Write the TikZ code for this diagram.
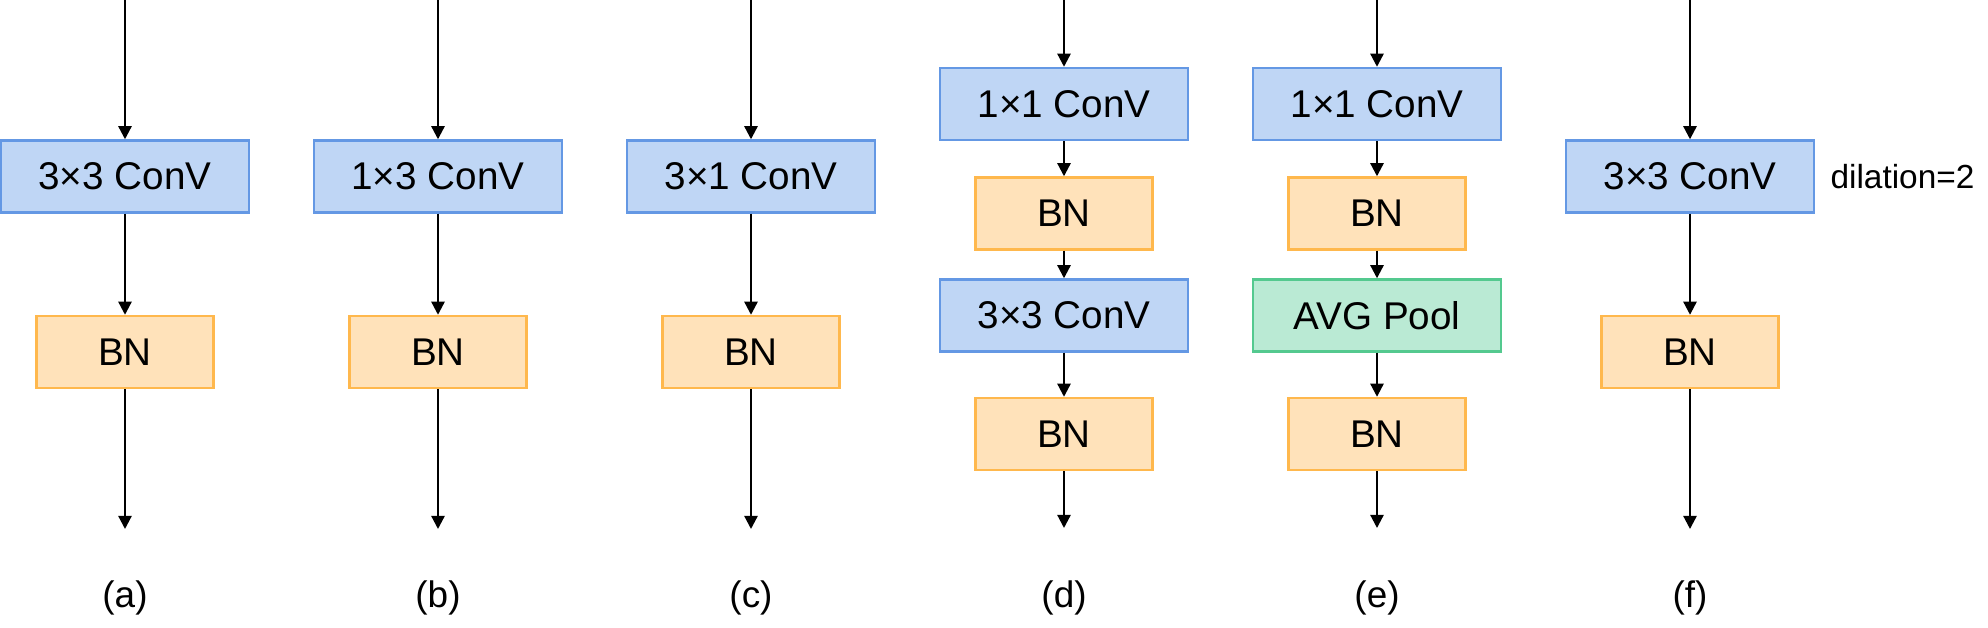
\documentclass[tikz,border=0pt]{standalone}
\usepackage{fontspec}
\setmainfont{Liberation Sans}
\usetikzlibrary{arrows.meta,positioning}

\definecolor{convfill}{RGB}{191,214,245}
\definecolor{convline}{RGB}{100,152,228}
\definecolor{bnfill}{RGB}{255,226,186}
\definecolor{bnline}{RGB}{255,184,77}
\definecolor{poolfill}{RGB}{186,234,212}
\definecolor{poolline}{RGB}{84,201,143}

\begin{document}
\begin{tikzpicture}
[   x=0.02cm,y=-0.02cm,
    block/.style={line width=1.4pt,minimum height=1.44cm,inner sep=0pt,font=\fontsize{22}{26}\selectfont},
    convbox/.style={block,draw=convline,fill=convfill,minimum width=4.96cm},
    poolbox/.style={block,draw=poolline,fill=poolfill,minimum width=4.96cm},
    bnbox/.style={block,draw=bnline,fill=bnfill,minimum width=3.54cm},
    flow/.style={line width=1.3pt,-{Triangle[length=7.5pt,width=7.5pt]}},
    caption/.style={font=\fontsize{21}{25}\selectfont},
    note/.style={inner sep=0pt,font=\fontsize{19}{23}\selectfont},
]
    \useasboundingbox (0,0) rectangle (1988,628);
    % single conv + BN
    \foreach \n/\x/\t in {a/125/3×3 ConV,b/438/1×3 ConV,c/751/3×1 ConV,f/1690/3×3 ConV}
    {   \coordinate (in-\n) at (\x,0);
        \node[convbox] (conv-\n) at (\x,176.5) {\t};
        \node[bnbox] (bn-\n) at (\x,352) {BN};
        \coordinate (out-\n) at (\x,529);
        \draw[flow] (in-\n) -- (conv-\n);
        \draw[flow] (conv-\n) -- (bn-\n);
        \draw[flow] (bn-\n) -- (out-\n);
        \node[caption] (cap-\n) at (\x,598) {(\n)};
    }
    \node[note,right=0.3cm of conv-f] (dil) {dilation=2};
    % (d)
    \coordinate (in-d) at (1064,0);
    \node[convbox] (conv1-d) at (1064,104) {1×1 ConV};
    \node[bnbox] (bn1-d) at (1064,213.5) {BN};
    \node[convbox] (conv2-d) at (1064,315.5) {3×3 ConV};
    \node[bnbox] (bn2-d) at (1064,434) {BN};
    \coordinate (out-d) at (1064,528);
    \draw[flow] (in-d) -- (conv1-d);
    \draw[flow] (conv1-d) -- (bn1-d);
    \draw[flow] (bn1-d) -- (conv2-d);
    \draw[flow] (conv2-d) -- (bn2-d);
    \draw[flow] (bn2-d) -- (out-d);
    \node[caption] (cap-d) at (1064,598) {(d)};
    % (e)
    \coordinate (in-e) at (1377,0);
    \node[convbox] (conv-e) at (1377,104) {1×1 ConV};
    \node[bnbox] (bn1-e) at (1377,213.5) {BN};
    \node[poolbox] (pool-e) at (1377,315.5) {AVG Pool};
    \node[bnbox] (bn2-e) at (1377,434) {BN};
    \coordinate (out-e) at (1377,528);
    \draw[flow] (in-e) -- (conv-e);
    \draw[flow] (conv-e) -- (bn1-e);
    \draw[flow] (bn1-e) -- (pool-e);
    \draw[flow] (pool-e) -- (bn2-e);
    \draw[flow] (bn2-e) -- (out-e);
    \node[caption] (cap-e) at (1377,598) {(e)};
\end{tikzpicture}
\end{document}
